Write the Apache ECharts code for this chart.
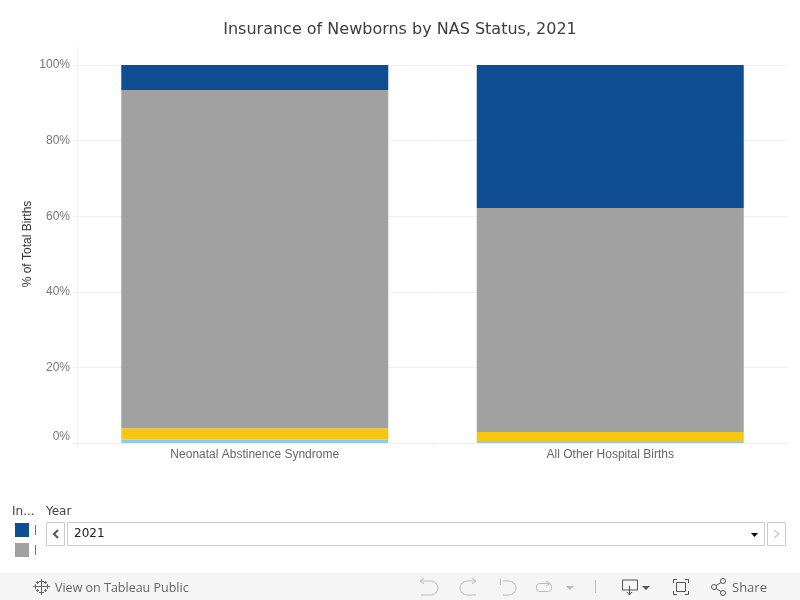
<!DOCTYPE html>
<html><head><meta charset="utf-8">
<style>html,body{margin:0;padding:0;background:#fff}#c{width:800px;height:600px}</style>
<script src="https://cdn.jsdelivr.net/npm/echarts@6/dist/echarts.min.js"></script></head>
<body><div id="c"></div>
<script>
const categories = ['Neonatal Abstinence Syndrome', 'All Other Hospital Births'];
const lightBlue = [0.9, 0.5];
const yellow = [3.0, 2.4];
const gray = [89.5, 59.3];
const blue = [6.6, 37.8];
const chart = echarts.init(document.getElementById('c'), null, {renderer:'canvas'});
const stackBar = (name, data, color) => ({name, type:'bar', stack:'t', data, barWidth:267, itemStyle:{color}});
const line = (x1,y1,x2,y2,stroke,lw=1) => ({type:'line', silent:true, shape:{x1,y1,x2,y2}, style:{stroke,lineWidth:lw}});
const rect = (x,y,width,height,fill,stroke) => ({type:'rect', silent:true, shape:{x,y,width,height}, style:{fill,stroke:stroke||null,lineWidth:1}});
const text = (x,y,t,fontSize,fill,family) => ({type:'text', silent:true, x, y, style:{text:t,fontSize,fill,fontFamily:family||'DejaVu Sans',textVerticalAlign:'middle'}});
const poly = (points,stroke,lw=1) => ({type:'polyline', silent:true, shape:{points}, style:{stroke,fill:null,lineWidth:lw}});
const tri = (points,fill) => ({type:'polygon', silent:true, shape:{points}, style:{fill}});
const circ = (cx,cy,r) => ({type:'circle',silent:true,shape:{cx,cy,r},style:{stroke:'#555',fill:'#f5f5f5'}});
const arcR = (cx,cy,r,a,b,stroke,cw) => ({type:'arc',silent:true,shape:{cx,cy,r,startAngle:a,endAngle:b,clockwise:cw},style:{stroke,fill:null,lineWidth:1}});
const plus = (x,y,r) => [line(x-r,y+0.5,x+r+1,y+0.5,'#666'),line(x+0.5,y-r,x+0.5,y+r+1,'#666')];
chart.setOption({
  animation:false,
  backgroundColor:'#fff',
  title:{text:'Insurance of Newborns by NAS Status, 2021',left:'center',top:17,textStyle:{fontFamily:'DejaVu Sans',fontSize:16,fontWeight:'normal',color:'#3c3c3c'}},
  grid:{left:77,right:12,top:65,bottom:157,containLabel:false},
  xAxis:{type:'category',data:categories,axisLine:{show:true,lineStyle:{color:'#f0f0f0'}},axisTick:{show:false},
    axisLabel:{fontFamily:'Liberation Sans',fontSize:12,color:'#666',margin:6}},
  yAxis:{type:'value',min:0,max:100,interval:20,
    axisLine:{show:false},axisTick:{show:true,length:5,lineStyle:{color:'#f0f0f0'}},splitLine:{lineStyle:{color:'#f0f0f0'}},
    axisLabel:{fontFamily:'Liberation Sans',fontSize:12,color:'#777',margin:7,formatter:v=>v+'%',verticalAlignMinLabel:'bottom',padding:[3,0,0,0]}},
  series:[stackBar('Light',lightBlue,'#8fc7f5'),stackBar('Yellow',yellow,'#f5c712'),stackBar('Gray',gray,'#a1a1a1'),stackBar('Blue',blue,'#0f4e92')],
  graphic:{elements:[
    line(77.5,47,77.5,447,'#f0f0f0'),
    line(432.5,443,432.5,447,'#f0f0f0'),
    {type:'text',silent:true,x:28,y:244,rotation:Math.PI/2,style:{text:'% of Total Births',fontFamily:'Liberation Sans',fontSize:12,fill:'#333',textAlign:'center',textVerticalAlign:'middle'}},
    text(12,512,'In...',12,'#444'),
    text(46,512,'Year',12,'#444'),
    rect(15,523,14,14,'#0f4e92'),
    rect(15,543,14,14,'#a1a1a1'),
    line(35.5,525,35.5,535,'#777'),
    line(35.5,545,35.5,555,'#777'),
    rect(46.5,522.5,18,23,'#fff','#ccc'),
    poly([[58,530],[54,534],[58,538]],'#555',2),
    rect(67.5,522.5,697,23,'#fff','#ccc'),
    text(74,534,'2021',12,'#222'),
    tri([[751,533],[758,533],[754.5,537]],'#000'),
    rect(767.5,522.5,18,23,'#fff','#ccc'),
    poly([[774,530],[779,534],[774,538]],'#ccc',1.5),
    rect(0,573,800,27,'#f5f5f5'),
    ...plus(41,586,3),...plus(41,581,2),...plus(41,592,2),...plus(35,586,2),...plus(47,586,2),...plus(37,582,1),...plus(45,582,1),...plus(37,590,1),...plus(45,590,1),
    text(55,588,'View on Tableau Public',12.5,'#666','Open Sans'),
    poly([[420,581],[431,581]],'#bbb'),arcR(431,588,7,-Math.PI/2,Math.PI/2,'#bbb',true),poly([[431,595],[421,595]],'#bbb'),poly([[424,578],[420,581],[424,584]],'#bbb'),
    poly([[476,581],[467,581]],'#bbb'),arcR(467,588,7,-Math.PI/2,Math.PI/2,'#bbb',false),poly([[467,595],[476,595]],'#bbb'),poly([[472,578],[476,581],[472,584]],'#bbb'),
    line(500.5,579,500.5,585,'#bbb'),poly([[503,581],[509,581]],'#bbb'),arcR(509,588,7,-Math.PI/2,Math.PI/2,'#bbb',true),poly([[509,595],[503,595]],'#bbb'),
    {type:'rect',silent:true,shape:{x:536.5,y:583.5,width:15,height:8,r:3},style:{fill:null,stroke:'#bbb'}},
    poly([[546,581],[550,583.5],[546,586]],'#bbb'),
    tri([[566,586],[574,586],[570,590]],'#bbb'),
    line(595.5,580,595.5,593,'#bbb'),
    poly([[630,590],[622.5,590],[622.5,580],[637.5,580],[637.5,590],[630,590]],'#555'),
    line(629.5,586,629.5,595,'#555'),poly([[627,592],[629.5,595],[632,592]],'#555'),
    tri([[642,586],[650,586],[646,590]],'#555'),
    rect(676.5,582.5,9,9,null,'#555'),
    poly([[673.5,583],[673.5,579.5],[677,579.5]],'#555'),poly([[685,579.5],[688.5,579.5],[688.5,583]],'#555'),
    poly([[688.5,591],[688.5,594.5],[685,594.5]],'#555'),poly([[677,594.5],[673.5,594.5],[673.5,591]],'#555'),
    line(714,587,723,581,'#555'),line(714,587,723,593,'#555'),
    circ(714,587,2.5),circ(723,581,2.5),circ(723,593,2.5),
    text(732,588,'Share',13,'#666','Open Sans')
  ]}
});
</script></body></html>
